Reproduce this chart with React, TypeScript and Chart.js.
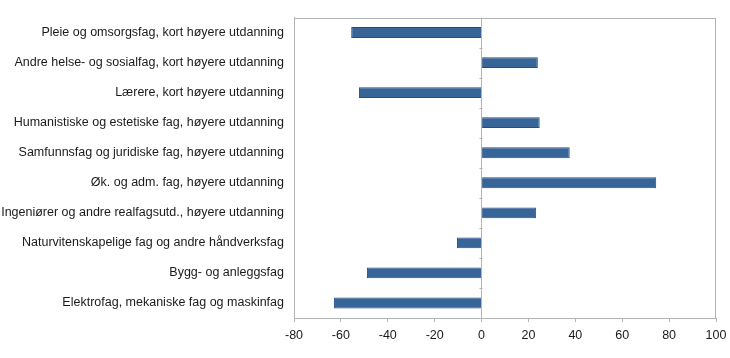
import React, { useEffect, useRef } from "react";
import { Chart, registerables } from "chart.js";

Chart.register(...registerables);

const categories: string[] = [
  "Pleie og omsorgsfag, kort høyere utdanning",
  "Andre helse- og sosialfag, kort høyere utdanning",
  "Lærere, kort høyere utdanning",
  "Humanistiske og estetiske fag, høyere utdanning",
  "Samfunnsfag og juridiske fag, høyere utdanning",
  "Øk. og adm. fag, høyere utdanning",
  "Ingeniører og andre realfagsutd., høyere utdanning",
  "Naturvitenskapelige fag og andre håndverksfag",
  "Bygg- og anleggsfag",
  "Elektrofag, mekaniske fag og maskinfag",
];

const values: number[] = [-55.6, 24.0, -52.3, 24.8, 37.6, 74.5, 23.3, -10.5, -48.9, -63.0];

const xMin = -80;
const xMax = 100;
const xStep = 20;

const FONT = "'Liberation Sans', Arial, Helvetica, sans-serif";
const AXIS_GRAY = "#b4b4b4";

const framePlugin = {
  id: "frame",
  afterDatasetsDraw(chart: any) {
    const { ctx, chartArea, scales } = chart;
    ctx.save();
    ctx.strokeStyle = AXIS_GRAY;
    ctx.lineWidth = 1;
    ctx.strokeRect(
      Math.round(chartArea.left) + 0.5,
      Math.round(chartArea.top) + 0.5,
      Math.round(chartArea.right - chartArea.left) - 1,
      Math.round(chartArea.bottom - chartArea.top) - 1
    );
    const x0 = Math.round(scales.x.getPixelForValue(0)) + 0.5;
    ctx.beginPath();
    for (let i = 0; i <= categories.length; i++) {
      const y = Math.round(scales.y.getPixelForValue(i - 0.5)) + 0.5;
      ctx.moveTo(x0 - 3, y);
      ctx.lineTo(x0, y);
    }
    ctx.stroke();
    ctx.restore();
  },
};

export default function App() {
  const ref = useRef<HTMLCanvasElement | null>(null);

  useEffect(() => {
    document.body.style.margin = "0";
    if (!ref.current) return;
    const chart = new Chart(ref.current, {
      type: "bar",
      data: {
        labels: categories,
        datasets: [
          {
            data: values,
            backgroundColor: "#386597",
            borderColor: "#1d4f8c",
            borderWidth: 1,
            barPercentage: 0.36,
            categoryPercentage: 1,
          },
        ],
      },
      options: {
        indexAxis: "y",
        animation: false,
        responsive: false,
        maintainAspectRatio: false,
        layout: { padding: { top: 15, right: 0, left: 0, bottom: 9 } },
        plugins: { legend: { display: false }, tooltip: { enabled: false } },
        scales: {
          x: {
            min: xMin,
            max: xMax,
            afterFit: (scale: any) => {
              scale.paddingRight = 14;
            },
            ticks: {
              stepSize: xStep,
              color: "#1a1a1a",
              font: { family: FONT, size: 12.5 },
              padding: 6,
              maxRotation: 0,
            },
            grid: {
              drawOnChartArea: true,
              color: (c: any) => (c.tick && c.tick.value === 0 ? AXIS_GRAY : "rgba(0,0,0,0)"),
              tickColor: AXIS_GRAY,
              tickLength: 4,
            },
            border: { display: true, color: AXIS_GRAY },
          },
          y: {
            afterFit: (scale: any) => {
              scale.width = 294;
            },
            ticks: {
              color: "#1a1a1a",
              font: { family: FONT, size: 12.5 },
              padding: 10,
            },
            grid: { display: false, drawTicks: false, tickLength: 0 },
            border: { display: true, color: AXIS_GRAY },
          },
        },
      },
      plugins: [framePlugin],
    } as any);
    return () => chart.destroy();
  }, []);

  return (
    <div style={{ width: 730, height: 358 }}>
      <canvas ref={ref} width={730} height={358} style={{ display: "block" }} />
    </div>
  );
}
